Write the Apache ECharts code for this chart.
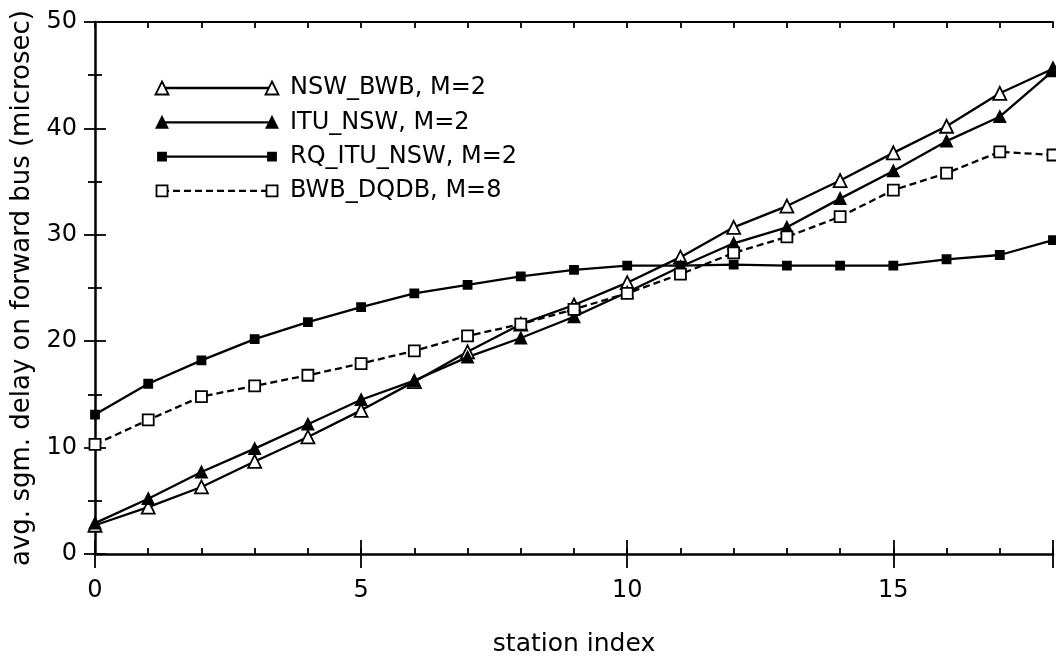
<!DOCTYPE html>
<html>
<head>
<meta charset="utf-8">
<script src="https://cdn.jsdelivr.net/npm/echarts@6/dist/echarts.min.js"></script>
<style>
html,body{margin:0;padding:0;background:#fff;}
#chart{width:1056px;height:662px;}
</style>
</head>
<body>
<div id="chart"></div>
<script>
// ---- data ----
var stations = [0,1,2,3,4,5,6,7,8,9,10,11,12,13,14,15,16,17,18];
var seriesNames = ['NSW_BWB, M=2', 'ITU_NSW, M=2', 'RQ_ITU_NSW, M=2', 'BWB_DQDB, M=8'];
var nswBwb   = [2.7, 4.4, 6.3, 8.7, 11.0, 13.5, 16.2, 19.0, 21.6, 23.4, 25.5, 27.9, 30.7, 32.7, 35.1, 37.7, 40.2, 43.3, 45.6];
var ituNsw   = [2.9, 5.2, 7.7, 9.9, 12.2, 14.5, 16.3, 18.5, 20.3, 22.3, 24.6, 27.0, 29.2, 30.7, 33.4, 36.0, 38.8, 41.1, 45.4];
var rqItuNsw = [13.1, 16.0, 18.2, 20.2, 21.8, 23.2, 24.5, 25.3, 26.1, 26.7, 27.1, 27.1, 27.2, 27.1, 27.1, 27.1, 27.7, 28.1, 29.5];
var bwbDqdb  = [10.3, 12.6, 14.8, 15.8, 16.8, 17.9, 19.1, 20.5, 21.6, 23.0, 24.5, 26.3, 28.3, 29.8, 31.7, 34.2, 35.8, 37.8, 37.5];
var xTickLabels = [0, 5, 10, 15];
var yTickLabels = [0, 10, 20, 30, 40, 50];
var xTitle = 'station index';
var yTitle = 'avg. sgm. delay on forward bus (microsec)';

// ---- styles ----
var FONT = 'DejaVu Sans';
var styles = [
  {symbol:'triangle', size:13, fill:'#fff', dash:'solid'},
  {symbol:'triangle', size:11, fill:'#000', dash:'solid'},
  {symbol:'rect',     size:8,  fill:'#000', dash:'solid'},
  {symbol:'rect',     size:11, fill:'#fff', dash:[7,4]}
];
var allValues = [nswBwb, ituNsw, rqItuNsw, bwbDqdb];

function pairs(vals){ return stations.map(function(s,i){ return [s, vals[i]]; }); }

var series = allValues.map(function(vals, i){
  var st = styles[i];
  return {
    name: seriesNames[i], type:'line', xAxisIndex:0, yAxisIndex:0,
    data: pairs(vals),
    symbol: st.symbol, symbolSize: st.size, showAllSymbol:true,
    itemStyle:{color: st.fill, borderColor:'#000', borderWidth:1.8},
    lineStyle:{color:'#000', width:2.3, type: st.dash},
    emphasis:{disabled:true}, silent:true, animation:false, z: 3
  };
});

// legend drawn as graphic (line with symbols at both ends)
var legendGraphic = [];
var legX0 = 162, legX1 = 272, legY0 = 88, legDy = 34.3;
function symbolShape(st, cx, cy){
  var s = st.size;
  if (st.symbol === 'triangle') {
    return {type:'polygon', shape:{points:[[cx, cy - s/2],[cx + s/2, cy + s/2],[cx - s/2, cy + s/2]]},
      style:{fill:st.fill, stroke:'#000', lineWidth:1.8}, z:10};
  }
  return {type:'rect', shape:{x:cx - s/2, y:cy - s/2, width:s, height:s},
    style:{fill:st.fill, stroke:'#000', lineWidth:1.8}, z:10};
}
seriesNames.forEach(function(nm, i){
  var st = styles[i];
  var y = legY0 + i*legDy;
  legendGraphic.push({type:'line', shape:{x1:legX0, y1:y, x2:legX1, y2:y},
    style:{stroke:'#000', lineWidth:2.3, lineDash: st.dash === 'solid' ? null : st.dash}, z:9});
  legendGraphic.push(symbolShape(st, legX0, y));
  legendGraphic.push(symbolShape(st, legX1, y));
  legendGraphic.push({type:'text', x:290, y:y, style:{text:nm, font:'24px "' + FONT + '"', fill:'#000', verticalAlign:'middle', align:'left'}, z:10});
});

function xAx(pos, interval, len, opts){
  return Object.assign({
    type:'value', min:0, max:18, interval:interval, position:pos, gridIndex:0,
    axisLine:{show:true, onZero:false, lineStyle:{color:'#000', width:2}},
    axisTick:{show:true, inside:true, length:len, lineStyle:{color:'#000', width:1.8}},
    axisLabel:{show:false},
    splitLine:{show:false}
  }, opts || {});
}

var option = {
  backgroundColor:'#fff',
  animation:false,
  textStyle:{fontFamily:FONT},
  grid:{left:95, right:0, top:22, bottom:107, containLabel:false},
  xAxis:[
    xAx('bottom', 1, 6, {
      axisLine:{show:true, onZero:false, lineStyle:{color:'#000', width:2.5}},
      axisLabel:{show:true, margin:25, fontFamily:FONT, fontSize:24, color:'#000',
        formatter:function(v){ return xTickLabels.indexOf(v) >= 0 ? String(v) : ''; }},
      name:xTitle, nameLocation:'middle', nameGap:78,
      nameTextStyle:{fontFamily:FONT, fontSize:25, color:'#000'}
    }),
    xAx('bottom', 5, 14, {axisLine:{show:false}}),
    xAx('top', 1, 6),
    xAx('top', 5, 14, {axisLine:{show:false}})
  ],
  yAxis:[
    {type:'value', min:0, max:50, interval:10, position:'left', gridIndex:0,
     axisLine:{show:true, onZero:false, lineStyle:{color:'#000', width:2.5}},
     axisTick:{show:true, inside:true, length:11, lineStyle:{color:'#000', width:1.8}},
     minorTick:{show:true, splitNumber:2, length:7, lineStyle:{color:'#000', width:1.8}},
     axisLabel:{show:true, margin:18, fontFamily:FONT, fontSize:24, color:'#000',
       formatter:function(v){ return yTickLabels.indexOf(v) >= 0 ? String(v) : ''; }},
     splitLine:{show:false},
     name:yTitle, nameLocation:'middle', nameGap:59,
     nameTextStyle:{fontFamily:FONT, fontSize:26, color:'#000'}
    },
    {type:'value', min:0, max:50, interval:10, position:'right', gridIndex:0,
     axisLine:{show:false},
     axisTick:{show:true, inside:true, length:11, lineStyle:{color:'#000', width:1.8}},
     minorTick:{show:true, splitNumber:2, length:7, lineStyle:{color:'#000', width:1.8}},
     axisLabel:{show:false}, splitLine:{show:false}
    }
  ],
  series: series,
  graphic: legendGraphic
};

var chart = echarts.init(document.getElementById('chart'), null, {renderer:'canvas'});
chart.setOption(option);
</script>
</body>
</html>
